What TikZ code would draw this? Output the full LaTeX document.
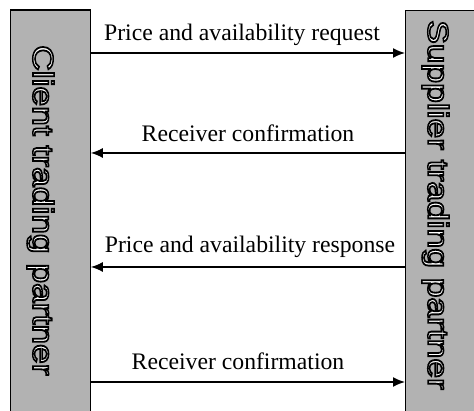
\documentclass[tikz,border=0pt]{standalone}
\usepackage{fontspec}
\setmainfont{Liberation Serif}
\newfontfamily\barfont{Liberation Sans}
\usetikzlibrary{arrows.meta}
\newcommand\outlinedtext[1]{\special{pdf:literal direct 2 Tr 1.5 w 0 G}#1\special{pdf:literal direct 0 Tr}}
\tikzset{
  bar/.style={draw=black, line width=1.3pt, fill=black!30, inner sep=0pt, anchor=north west},
  bartext/.style={font=\barfont\fontsize{29}{29}\selectfont, text=white, rotate=-90, xscale=1.22, inner sep=0pt, anchor=base west},
  msg/.style={font=\fontsize{23.7}{24}\selectfont, inner sep=0pt, anchor=base},
  flow/.style={line width=1.6pt, -{Latex[length=12pt,width=10pt]}}
}
\begin{document}
\begin{tikzpicture}[x=1pt,y=1pt]
\useasboundingbox (0,0) rectangle (474,411);
\node[bar, minimum width=79.5pt, minimum height=410pt] (client) at (10,401.5) {};
\node[bar, minimum width=80pt, minimum height=410pt] (supplier) at (405,401) {};
\node[bartext] (clientlabel) at (33,366) {\outlinedtext{Client trading partner}};
\node[bartext] (supplierlabel) at (428,391) {\outlinedtext{Supplier trading partner}};
\node[msg] (m1) at (242,370) {Price and availability request};
\node[msg] (m2) at (248,269) {Receiver confirmation};
\node[msg] (m3) at (250,158) {Price and availability response};
\node[msg] (m4) at (238,41) {Receiver confirmation};
\draw[flow] (client.east |- 0,358) -- (supplier.west |- 0,358);
\draw[flow] (supplier.west |- 0,258) -- (client.east |- 0,258);
\draw[flow] (supplier.west |- 0,144) -- (client.east |- 0,144);
\draw[flow] (client.east |- 0,29) -- (supplier.west |- 0,29);
\end{tikzpicture}
\end{document}
